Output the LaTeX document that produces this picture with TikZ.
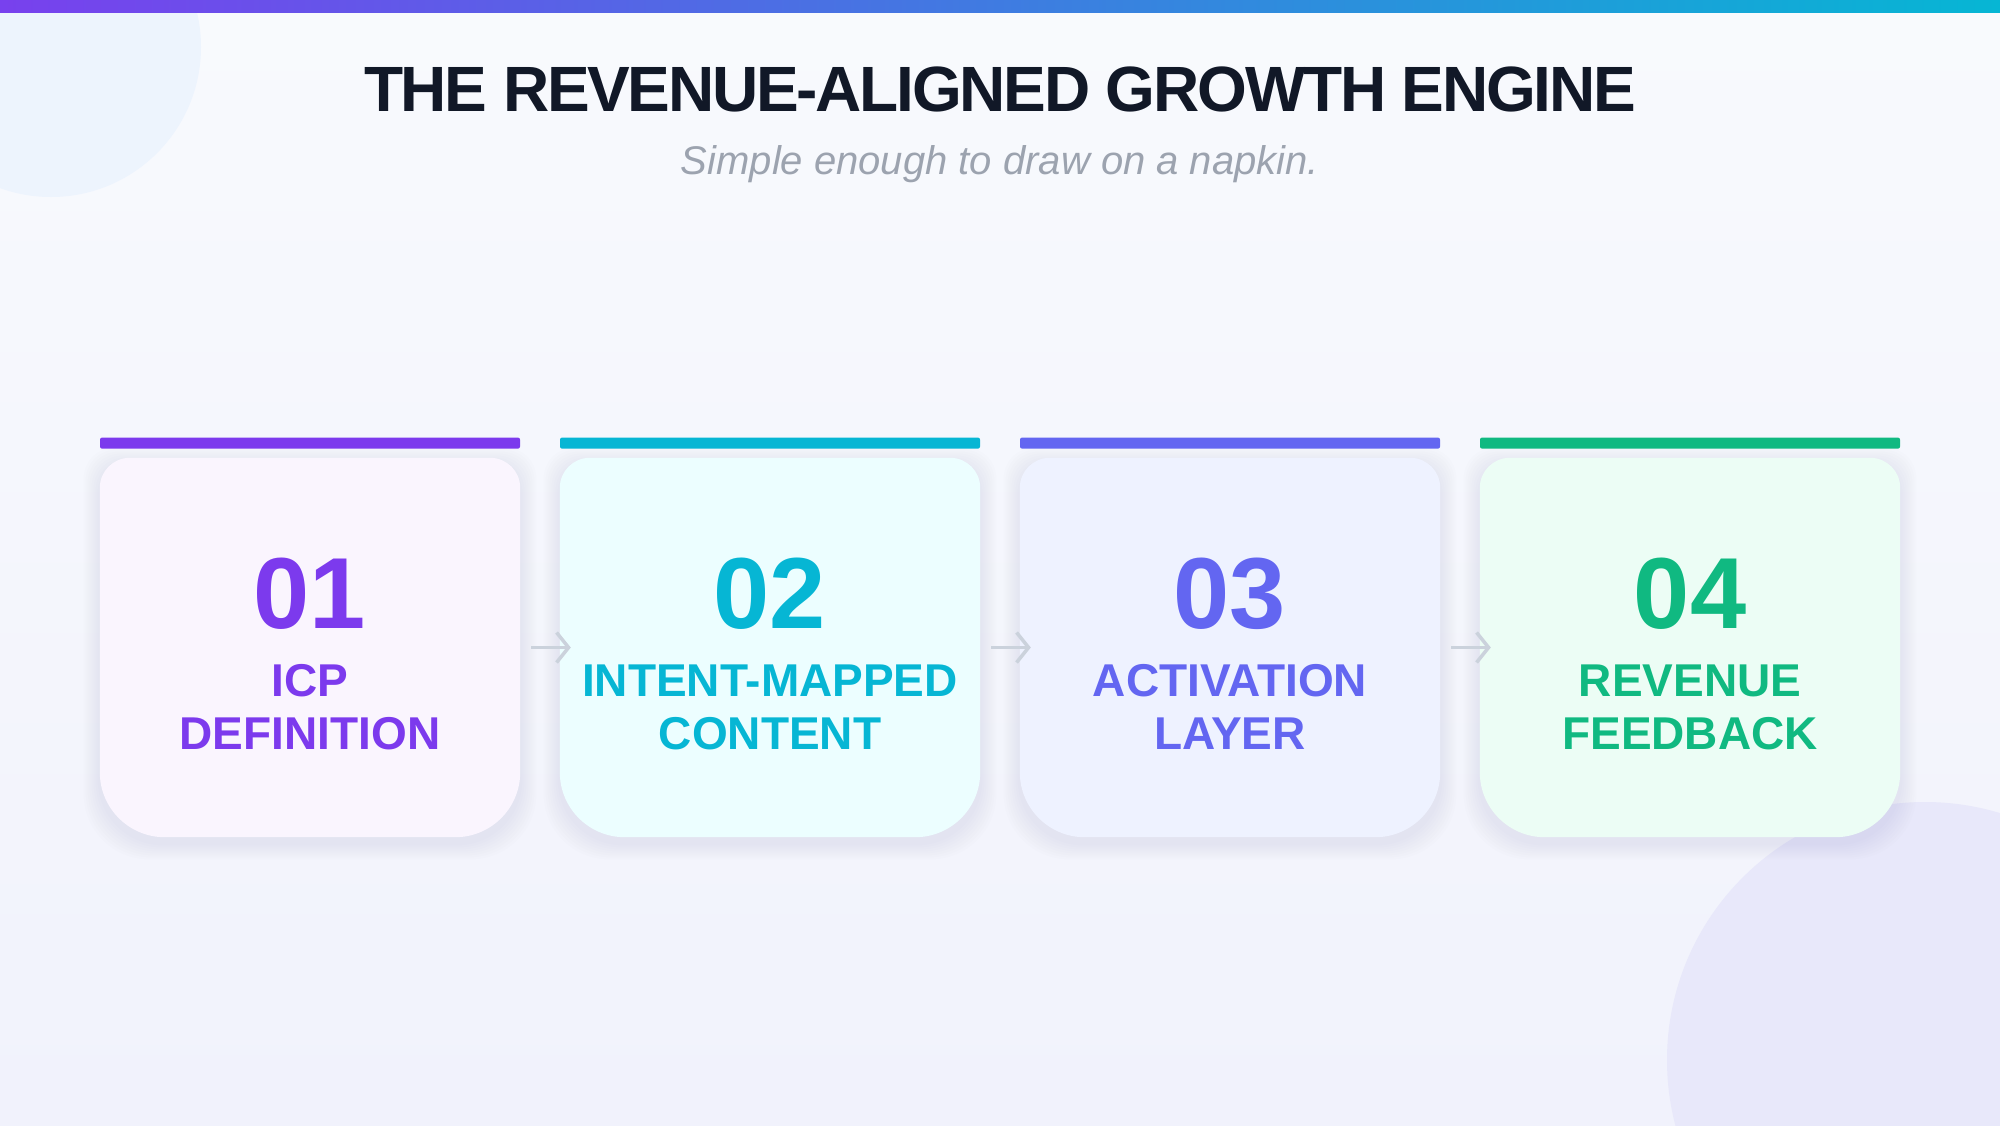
\documentclass[tikz,border=0pt]{standalone}
\usepackage{fontspec}
\setmainfont{Liberation Sans}
\usetikzlibrary{positioning,arrows.meta}
\definecolor{stepviolet}{HTML}{7C3AED}
\definecolor{stepcyan}{HTML}{06B6D4}
\definecolor{stepindigo}{HTML}{6366F1}
\definecolor{stepgreen}{HTML}{10B981}
\definecolor{fillviolet}{HTML}{FAF5FE}
\definecolor{fillcyan}{HTML}{ECFEFF}
\definecolor{fillindigo}{HTML}{EEF2FF}
\definecolor{fillgreen}{HTML}{ECFDF5}
\definecolor{titleink}{HTML}{111827}
\definecolor{subgray}{HTML}{9CA3AF}
\definecolor{arrowgray}{HTML}{CBD2DC}
\definecolor{bgtop}{HTML}{F8FAFD}
\definecolor{bgbottom}{HTML}{F1F2FC}
\definecolor{blobblue}{HTML}{EDF4FD}
\definecolor{bloblilac}{HTML}{E8E8FA}
\definecolor{shadowcol}{HTML}{8E96B8}

\begin{document}
\begin{tikzpicture}[x=1pt, y=-1pt,
  card/.style={minimum width=420pt, minimum height=379pt, inner sep=0pt},
  bar/.style={rounded corners=2pt, minimum width=420pt, minimum height=11pt, inner sep=0pt},
  num/.style={font=\bfseries\fontsize{101}{101}\selectfont, inner sep=0pt},
  lbl/.style={font=\bfseries\fontsize{46}{53}\selectfont, align=center, inner sep=0pt},
  flow/.style={-{Straight Barb[length=12pt, width=30pt]}, line width=3.5pt, draw=arrowgray}]

  \newcommand\CardBody[2]{%% #1 card node, #2 fill
    \foreach \g in {2,4,...,16}{
      \fill[shadowcol, opacity=0.014]
        ([shift={(-\g pt,-6pt)}]#1.west) [rounded corners=30pt] |- ([yshift={\g*1pt-6pt}]#1.north)
        -| ([shift={(\g pt,-6pt)}]#1.east) [rounded corners=65pt] |- ([yshift={-\g*1pt-6pt}]#1.south)
        -| ([shift={(-\g pt,-6pt)}]#1.west) -- cycle;
    }
    \fill[#2] (#1.west) [rounded corners=30pt] |- (#1.north) -| (#1.east)
      [rounded corners=65pt] |- (#1.south) -| (#1.west) -- cycle;
  }

  \useasboundingbox (0,0) rectangle (2000,1125);

  %% background
  \shade[top color=bgtop, bottom color=bgbottom] (0,0) rectangle (2000,1125);
  \begin{scope}
    \clip (0,0) rectangle (2000,1125);
    \fill[blobblue] (51,47) circle[radius=150];
    \fill[bloblilac] (1925,1060) circle[radius=258];
  \end{scope}
  \shade[left color=stepviolet!85!stepindigo, middle color=stepindigo, right color=stepcyan] (0,0) rectangle (2000,12.5);

  %% heading
  \node[font=\bfseries\fontsize{64}{64}\selectfont\addfontfeature{LetterSpace=-3.5}, text=titleink, anchor=base] (title) at (1000,111) {THE REVENUE-ALIGNED GROWTH ENGINE};
  \node[font=\itshape\fontsize{40}{40}\selectfont, text=subgray, anchor=base] (sub) at (1000,174) {Simple enough to draw on a napkin.};

  %% cards
  \node[card] (c1) at (310,647.5) {};
  \node[card] (c2) at (770,647.5) {};
  \node[card] (c3) at (1230,647.5) {};
  \node[card] (c4) at (1690,647.5) {};
  \CardBody{c1}{fillviolet}
  \CardBody{c2}{fillcyan}
  \CardBody{c3}{fillindigo}
  \CardBody{c4}{fillgreen}

  \node[bar, fill=stepviolet, above=9pt of c1.north] (b1) {};
  \node[bar, fill=stepcyan,   above=9pt of c2.north] (b2) {};
  \node[bar, fill=stepindigo, above=9pt of c3.north] (b3) {};
  \node[bar, fill=stepgreen,  above=9pt of c4.north] (b4) {};

  \node[num, text=stepviolet] (n1) at ([yshift=-135.5pt]c1.north) {01};
  \node[num, text=stepcyan]   (n2) at ([yshift=-135.5pt]c2.north) {02};
  \node[num, text=stepindigo] (n3) at ([yshift=-135.5pt]c3.north) {03};
  \node[num, text=stepgreen]  (n4) at ([yshift=-135.5pt]c4.north) {04};

  \node[lbl, text=stepviolet] (l1) at ([yshift=-249.5pt]c1.north) {ICP\\DEFINITION};
  \node[lbl, text=stepcyan]   (l2) at ([yshift=-249.5pt]c2.north) {INTENT-MAPPED\\CONTENT};
  \node[lbl, text=stepindigo] (l3) at ([yshift=-249.5pt]c3.north) {ACTIVATION\\LAYER};
  \node[lbl, text=stepgreen]  (l4) at ([yshift=-249.5pt]c4.north) {REVENUE\\FEEDBACK};

  %% arrows
  \draw[flow] ([xshift=11pt]c1.east) -- ([xshift=11pt]c2.west); %% 1->2
  \draw[flow] ([xshift=11pt]c2.east) -- ([xshift=11pt]c3.west); %% 2->3
  \draw[flow] ([xshift=11pt]c3.east) -- ([xshift=11pt]c4.west); %% 3->4

\end{tikzpicture}
\end{document}
